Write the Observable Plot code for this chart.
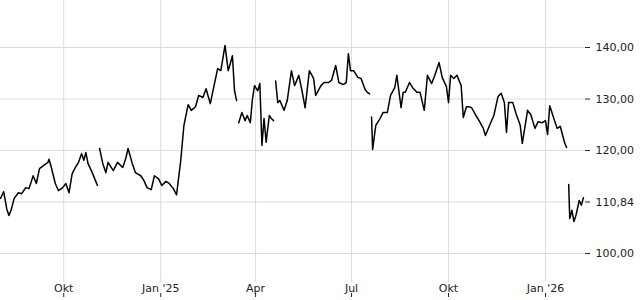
<!DOCTYPE html>
<html>
<head>
<meta charset="utf-8">
<script src="https://cdn.jsdelivr.net/npm/d3@7"></script>
<script src="https://cdn.jsdelivr.net/npm/@observablehq/plot@0.6"></script>
<style>
  html, body { margin: 0; padding: 0; background: #fff; }
  #chart svg { display: block; }
</style>
</head>
<body>
<div id="chart"></div>
<script>
const dates = [
  "2024-08-02","2024-08-05","2024-08-08","2024-08-10","2024-08-12","2024-08-15","2024-08-19","2024-08-22","2024-08-26","2024-08-29",
  "2024-09-02","2024-09-05","2024-09-08","2024-09-12","2024-09-16","2024-09-17","2024-09-19","2024-09-23","2024-09-26","2024-09-30",
  "2024-10-03","2024-10-06","2024-10-09","2024-10-12","2024-10-15","2024-10-18","2024-10-20","2024-10-22","2024-10-24","2024-10-28","2024-10-31",
  "2024-11-02","2024-11-03","2024-11-04","2024-11-07","2024-11-10","2024-11-12","2024-11-17","2024-11-21","2024-11-26","2024-11-29",
  "2024-12-01","2024-12-05","2024-12-08","2024-12-13","2024-12-16","2024-12-19","2024-12-23","2024-12-26","2024-12-30",
  "2025-01-02","2025-01-06","2025-01-09","2025-01-13","2025-01-16","2025-01-20","2025-01-23","2025-01-27","2025-01-30",
  "2025-02-03","2025-02-06","2025-02-10","2025-02-13","2025-02-17","2025-02-20","2025-02-24","2025-02-27",
  "2025-03-03","2025-03-06","2025-03-08","2025-03-10","2025-03-12","2025-03-14","2025-03-15","2025-03-16","2025-03-19","2025-03-22","2025-03-24","2025-03-27","2025-03-29","2025-03-31",
  "2025-04-03","2025-04-05","2025-04-07","2025-04-09","2025-04-11","2025-04-14","2025-04-16","2025-04-18","2025-04-19","2025-04-20","2025-04-22","2025-04-24","2025-04-28",
  "2025-05-01","2025-05-05","2025-05-08","2025-05-12","2025-05-15","2025-05-18","2025-05-22","2025-05-26","2025-05-28",
  "2025-06-02","2025-06-05","2025-06-09","2025-06-12","2025-06-16","2025-06-19","2025-06-23","2025-06-26","2025-06-28","2025-06-30",
  "2025-07-03","2025-07-07","2025-07-10","2025-07-14","2025-07-16","2025-07-18","2025-07-19","2025-07-20","2025-07-21","2025-07-24","2025-07-28","2025-07-31",
  "2025-08-04","2025-08-07","2025-08-11","2025-08-13","2025-08-17","2025-08-19","2025-08-21","2025-08-25","2025-08-28",
  "2025-09-01","2025-09-04","2025-09-08","2025-09-11","2025-09-15","2025-09-18","2025-09-22","2025-09-25","2025-09-29",
  "2025-10-01","2025-10-03","2025-10-06","2025-10-09","2025-10-13","2025-10-15","2025-10-18","2025-10-20","2025-10-23","2025-10-27","2025-10-30",
  "2025-11-03","2025-11-05","2025-11-10","2025-11-13","2025-11-17","2025-11-20","2025-11-23","2025-11-25","2025-11-27",
  "2025-12-01","2025-12-04","2025-12-08","2025-12-10","2025-12-15","2025-12-18","2025-12-22","2025-12-25","2025-12-29",
  "2026-01-01","2026-01-03","2026-01-05","2026-01-08","2026-01-12","2026-01-15","2026-01-19","2026-01-21","2026-01-22","2026-01-23","2026-01-24",
  "2026-01-26","2026-01-28","2026-01-30","2026-02-02","2026-02-04","2026-02-06"
];
const values = [
  110.7,112.0,108.6,107.4,108.4,110.7,111.8,111.6,112.8,112.6,
  115.1,113.6,116.5,117.1,117.7,118.3,116.9,113.6,112.2,112.8,
  113.6,111.8,115.5,116.7,117.7,119.4,118.1,119.6,117.5,115.7,114.2,
  113.2,null,120.4,117.5,115.7,117.7,116.1,117.7,116.7,118.6,
  120.4,117.5,115.7,115.1,114.2,112.8,112.4,115.1,114.5,
  113.2,114.0,113.6,112.6,111.4,118.1,124.9,128.9,127.8,
  128.5,130.7,130.3,132.0,129.1,132.0,135.9,135.5,
  140.4,135.5,136.9,138.4,131.6,129.7,null,125.4,127.4,125.8,126.8,125.4,130.0,132.6,
  131.6,133.0,121.0,126.2,121.6,126.8,126.2,125.8,null,133.5,129.3,129.7,127.8,
  129.7,135.5,132.6,134.6,131.6,128.3,135.5,134.0,130.7,
  132.6,133.2,133.2,133.6,136.5,133.2,132.8,133.2,138.8,135.5,
  135.5,134.2,134.0,131.8,131.3,131.0,null,126.5,120.2,124.9,126.2,127.4,
  127.4,130.7,132.2,134.6,128.3,131.3,131.3,133.2,132.2,
  131.3,131.3,127.8,134.6,133.0,134.6,137.1,134.2,132.4,
  129.3,134.6,134.0,134.6,132.6,126.4,128.5,128.5,128.3,126.8,125.8,
  124.3,122.9,125.4,126.8,130.5,131.1,129.3,123.5,129.3,
  129.3,127.2,124.9,121.4,127.8,127.0,124.3,125.6,125.4,
  125.8,123.1,128.7,126.8,124.3,124.7,121.6,120.6,null,113.4,106.8,
  108.4,106.2,107.5,110.3,109.4,110.84
];
const xTicks = ["2024-10-01","2025-01-01","2025-04-01","2025-07-01","2025-10-01","2026-01-01"];
const xTickLabels = ["Okt","Jan '25","Apr","Jul","Okt","Jan '26"];
const yTicks = [100, 110, 120, 130, 140];
const yTickLabels = ["100,00","110,84","120,00","130,00","140,00"];

const data = dates.map((d, i) => ({date: new Date(d), value: values[i]}));
const xTickDates = xTicks.map(d => new Date(d));
const xLabelMap = new Map(xTickDates.map((d, i) => [+d, xTickLabels[i]]));
const yLabelMap = new Map(yTicks.map((v, i) => [v, yTickLabels[i]]));

const chart = Plot.plot({
  width: 640,
  height: 300,
  marginLeft: 0,
  marginRight: 56,
  marginTop: 0,
  marginBottom: 18,
  style: {fontFamily: "DejaVu Sans", fontSize: "11px", color: "#222", background: "#fff"},
  x: {type: "utc", domain: [new Date("2024-08-02"), new Date("2026-02-07")]},
  y: {domain: [94.37, 149.13]},
  marks: [
    Plot.gridX(xTickDates, {stroke: "#dcdcdc", strokeOpacity: 1}),
    Plot.gridY(yTicks, {stroke: "#dcdcdc", strokeOpacity: 1}),
    Plot.line(data, {x: "date", y: "value", stroke: "#000", strokeWidth: 1.5}),
    Plot.axisX(xTickDates, {tickSize: 0, tickPadding: 2, tickFormat: d => xLabelMap.get(+d), fill: "#222", label: null}),
    Plot.axisX(xTickDates, {tickSize: 4, tickFormat: () => "", dy: 11, stroke: "#222", label: null}),
    Plot.axisY(yTicks, {anchor: "right", tickSize: 5, tickPadding: 6, tickFormat: v => yLabelMap.get(v), fill: "#222", stroke: "#222", label: null})
  ]
});
document.getElementById("chart").appendChild(chart);
</script>
</body>
</html>
